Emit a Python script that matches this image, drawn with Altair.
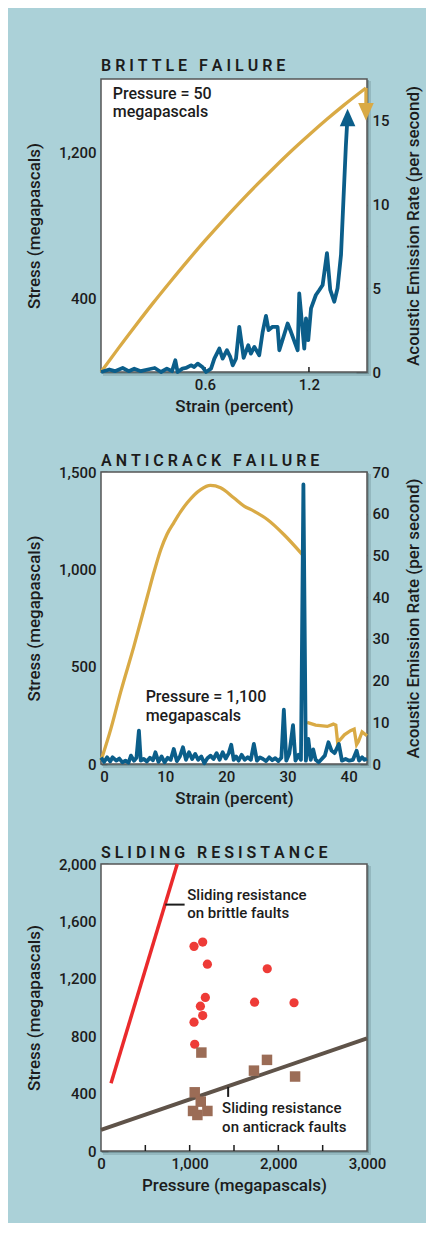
import altair as alt
import pandas as pd

# ---------------- BRITTLE FAILURE ----------------
brittle_strain = [0.0, 0.1, 0.2, 0.3, 0.4, 0.5, 0.6, 0.7, 0.8, 0.9, 1.0, 1.1, 1.2, 1.3, 1.4, 1.529]
brittle_stress = [0, 129, 254, 376, 493, 607, 717, 823, 925, 1023, 1117, 1208, 1294, 1377, 1456, 1551]
brittle_drop_strain = [1.529, 1.529]
brittle_drop_stress = [1551, 1421]
brittle_ae_strain = [0.0, 0.048, 0.08, 0.125, 0.16, 0.192, 0.23, 0.27, 0.31, 0.346, 0.38, 0.41,
                     0.429, 0.442, 0.47, 0.49, 0.519, 0.538, 0.558, 0.585, 0.606, 0.635, 0.654,
                     0.683, 0.702, 0.727, 0.746, 0.76, 0.779, 0.798, 0.823, 0.85, 0.865, 0.885,
                     0.913, 0.933, 0.952, 0.967, 0.99, 1.019, 1.029, 1.077, 1.096, 1.135, 1.144,
                     1.173, 1.183, 1.196, 1.212, 1.24, 1.26, 1.279, 1.304, 1.323, 1.346, 1.365,
                     1.385, 1.40, 1.413, 1.42]
brittle_ae = [0.0, 0.15, 0.05, 0.24, 0.05, 0.2, 0.05, 0.15, 0.24, 0.0, 0.2, 0.05,
              0.7, 0.0, 0.2, 0.24, 0.4, 0.3, 0.5, 0.3, 0.0, 0.2, 0.8,
              1.4, 0.8, 1.3, 0.9, 0.4, 0.8, 2.7, 0.85, 1.6, 1.1, 1.5,
              1.0, 2.4, 3.35, 2.5, 2.7, 2.7, 1.3, 2.9, 2.4, 1.3, 4.7,
              1.4, 3.2, 1.9, 3.8, 4.6, 4.9, 5.2, 7.1, 4.9, 4.2, 5.0,
              7.0, 10.5, 13.5, 14.8]
brittle_ae_head = [1.423, 15.2]
brittle_note = ["Pressure = 50", "megapascals"]
brittle_note_strain = [0.068, 0.068]
brittle_note_stress = [1519, 1421]
brittle_left_ticks = [400, 1200]
brittle_right_ticks = [0, 2.5, 5, 7.5, 10, 12.5, 15]
brittle_x_ticks = [0.6, 1.2]

# ---------------- ANTICRACK FAILURE ----------------
anti_strain_a = [-0.5, 1.1, 2.7, 4.9, 7.1, 8.2, 9.3, 10.3, 11.4, 12.5, 13.6, 15.8, 17.4, 19.05,
                 21.2, 22.9, 24.5, 26.7, 29.4, 32.4]
anti_stress_a = [17, 179, 368, 607, 863, 990, 1103, 1180, 1239, 1295, 1342, 1410, 1431, 1419,
                 1368, 1325, 1299, 1256, 1179, 1077]
anti_strain_b = [33.2, 34.6, 36.5, 37.5, 37.9, 38.2, 39.3, 40.3, 40.9, 41.3, 41.6, 42.2, 43.0]
anti_stress_b = [214, 200, 193, 205, 200, 110, 150, 171, 179, 100, 115, 165, 145]
anti_ae_strain = [-0.5, 0.0, 0.5, 1.0, 1.4, 2.0, 2.5, 3.0, 3.5, 4.0, 4.4, 4.9, 5.3, 5.7, 6.0,
                  6.5, 7.0, 7.5, 8.0, 8.4, 8.9, 9.4, 9.9, 10.4, 10.9, 11.4, 11.9, 12.4, 12.9,
                  13.4, 13.9, 14.4, 14.9, 15.4, 15.9, 16.4, 16.9, 17.4, 17.9, 18.4, 18.9, 19.4,
                  19.9, 20.4, 20.8, 21.2, 21.6, 22.0, 22.5, 23.0, 23.5, 24.0, 24.5, 25.0, 25.5,
                  26.0, 26.5, 27.0, 27.5, 28.0, 28.5, 29.0, 29.4, 29.8, 30.3, 30.9, 31.3, 31.8,
                  32.2, 32.6, 33.0, 33.4, 33.8, 34.2, 34.6, 35.1, 35.6, 36.1, 36.7, 37.2, 37.7,
                  38.4, 38.9, 39.5, 40.1, 40.7, 41.3, 41.7, 42.2, 42.6, 43.0]
anti_ae = [1.5, 0.5, 1.6, 0.6, 1.6, 0.8, 1.3, 0.4, 0.8, 0.3, 2.0, 0.8, 1.5, 8.0, 0.8,
           1.2, 0.6, 1.5, 0.9, 2.8, 0.5, 1.8, 0.4, 1.5, 1.0, 3.6, 0.7, 1.8, 4.0,
           1.0, 2.8, 1.2, 2.4, 1.0, 1.8, 0.2, 1.4, 2.0, 1.2, 2.6, 1.0, 2.8,
           1.3, 2.6, 4.6, 1.0, 1.8, 0.8, 2.2, 1.0, 1.6, 1.0, 4.8, 0.8, 1.6,
           1.2, 0.7, 1.6, 0.9, 1.4, 0.7, 1.5, 13.0, 0.8, 2.5, 9.3, 0.8, 2.2,
           1.0, 67.0, 0.8, 6.0, 1.0, 3.5, 1.0, 0.4, 1.2, 2.0, 5.2, 3.2, 2.6,
           4.8, 0.8, 1.2, 0.8, 1.0, 3.2, 0.8, 1.6, 1.0, 1.3]
anti_note = ["Pressure = 1,100", "megapascals"]
anti_note_strain = [6.8, 6.8]
anti_note_stress = [342, 246]
anti_left_ticks = [0, 500, 1000, 1500]
anti_right_ticks = [0, 10, 20, 30, 40, 50, 60, 70]
anti_x_labels = [0, 10, 20, 30, 40]

# ---------------- SLIDING RESISTANCE ----------------
brittle_fault_pressure = [113, 860]
brittle_fault_stress = [472, 2000]
anticrack_fault_pressure = [0, 3000]
anticrack_fault_stress = [147, 785]
dots_pressure = [1049, 1147, 1200, 1875, 1177, 1121, 1147, 1049, 1732, 2177, 1057]
dots_stress = [1426, 1456, 1302, 1270, 1070, 1009, 944, 898, 1037, 1033, 744]
squares_pressure = [1132, 1057, 1125, 1038, 1087, 1200, 1725, 1872, 2189]
squares_stress = [686, 409, 344, 279, 251, 279, 560, 635, 519]
slide_notes = ["Sliding resistance", "on brittle faults", "Sliding resistance", "on anticrack faults"]
slide_notes_pressure = [973, 973, 1366, 1366]
slide_notes_stress = [1786, 1656, 302, 170]
leader_pressure = [725, 1434]
leader_pressure2 = [943, 1434]
leader_stress = [1717, 447]
leader_stress2 = [1717, 377]
slide_y_ticks = [0, 400, 800, 1200, 1600, 2000]
slide_x_ticks = [500, 1000, 1500, 2000, 2500]

# ---------------- styling ----------------
FONT = "Roboto"
INK = "#1c1c1c"
GOLD = "#d9aa45"
BLUE = "#0b5e8a"
RED = "#ea2a2c"
DOT_RED = "#ee3b37"
SQ_BROWN = "#9b6c56"
LINE_BROWN = "#5f5349"
BG = "#abd1d8"
SHADOW = "#5f7d84"
UP = "M0,-1L-0.9,1L0.9,1Z"
DOWN = "M0,1L-0.9,-1L0.9,-1Z"
W = 266
ONE = pd.DataFrame({"k": [0]})


def spaced(s):
    return "\u00a0".join(s)


def ax(**kw):
    base = dict(domain=False, ticks=False, grid=False, labelFont=FONT, labelFontSize=15,
                labelFontWeight=500, labelColor=INK, titleFont=FONT, titleFontSize=17,
                titleFontWeight=500, titleColor=INK, labelOverlap=False, labelPadding=5)
    base.update(kw)
    return alt.Axis(**base)


def left_axis(title, values, tick_len):
    return ax(title=title, values=values, orient="left", grid=True,
              gridDash=[tick_len, 1000], gridColor=INK, gridWidth=1.5, gridOpacity=1,
              minExtent=42, maxExtent=42, titlePadding=16)


def right_axis(title, values, tick_len, label_expr=None):
    kw = dict(title=title, values=values, orient="right", grid=True,
              gridDash=[tick_len, 1000], gridColor=INK, gridWidth=1.5, gridOpacity=1,
              minExtent=22, maxExtent=22, titlePadding=33, titleAngle=270)
    if label_expr:
        kw["labelExpr"] = label_expr
    return ax(**kw)


def panel_title(t, off):
    return alt.TitleParams(spaced(t), anchor="start", frame="group", font=FONT, fontSize=16,
                           fontWeight=600, color=INK, offset=off)


def frame_layers(h):
    """drop shadow + white plot face with border, drawn beneath the data"""
    sh1 = alt.Chart(ONE).mark_rect(color=SHADOW, opacity=0.3).encode(
        x=alt.value(2), x2=alt.value(W + 4), y=alt.value(2), y2=alt.value(h + 4))
    sh2 = alt.Chart(ONE).mark_rect(color=SHADOW, opacity=0.55).encode(
        x=alt.value(1), x2=alt.value(W + 2), y=alt.value(1), y2=alt.value(h + 2))
    face = alt.Chart(ONE).mark_rect(color="white", stroke="#555555", strokeWidth=1.5).encode(
        x=alt.value(0), x2=alt.value(W), y=alt.value(0), y2=alt.value(h))
    return [sh1, sh2, face]


def note_text(df, x, y, size):
    return alt.Chart(df).mark_text(align="left", baseline="middle", font=FONT, fontSize=size,
                                   fontWeight=500, color=INK).encode(x=x, y=y, text="label:N")


# ---------------- panel 1 ----------------
H1 = 293
bx = alt.X("strain:Q", scale=alt.Scale(domain=[0, 1.535], nice=False),
           axis=ax(title="Strain (percent)", values=[0.6, 1.2], format=".1f", labelFlush=False,
                   titlePadding=6))
bl = alt.Y("stress:Q", scale=alt.Scale(domain=[0, 1600], nice=False),
           axis=left_axis("Stress (megapascals)", brittle_left_ticks, 10))
br = alt.Y("ae:Q", scale=alt.Scale(domain=[0, 17.5], nice=False),
           axis=right_axis("Acoustic Emission Rate (per second)", brittle_right_ticks, 11,
                           "datum.value % 5 === 0 ? datum.label : ''"))

df_bs = pd.DataFrame({"strain": brittle_strain, "stress": brittle_stress})
df_bd = pd.DataFrame({"strain": brittle_drop_strain, "stress": brittle_drop_stress})
df_bdh = pd.DataFrame({"strain": [brittle_drop_strain[-1]], "stress": [brittle_drop_stress[-1]]})
df_bn = pd.DataFrame({"strain": brittle_note_strain, "stress": brittle_note_stress, "label": brittle_note})
df_bxt = pd.DataFrame({"strain": brittle_x_ticks})
df_bae = pd.DataFrame({"strain": brittle_ae_strain, "ae": brittle_ae})
df_baeh = pd.DataFrame({"strain": [brittle_ae_head[0]], "ae": [brittle_ae_head[1]]})

p1_stress = alt.layer(
    *frame_layers(H1),
    alt.Chart(df_bxt).mark_rule(color=INK, strokeWidth=1.5).encode(
        x=bx, y=alt.value(H1 - 5), y2=alt.value(H1)),
    alt.Chart(df_bs).mark_line(color=GOLD, strokeWidth=3.3, interpolate="monotone").encode(x=bx, y=bl),
    alt.Chart(df_bd).mark_line(color=GOLD, strokeWidth=3.3).encode(x=bx, y=bl),
    alt.Chart(df_bdh).mark_point(shape=DOWN, filled=True, size=300, color=GOLD, opacity=1).encode(x=bx, y=bl),
    note_text(df_bn, bx, bl, 16),
)
p1_ae = alt.layer(
    alt.Chart(df_bae).mark_line(color=BLUE, strokeWidth=3.8, strokeJoin="round").encode(x=bx, y=br),
    alt.Chart(df_baeh).mark_point(shape=UP, filled=True, size=300, color=BLUE, opacity=1).encode(x=bx, y=br),
)
panel1 = alt.layer(p1_stress, p1_ae).resolve_scale(y="independent").properties(
    width=W, height=H1, title=panel_title("BRITTLE FAILURE", 4))

# ---------------- panel 2 ----------------
H2 = 292
mx = alt.X("strain:Q", scale=alt.Scale(domain=[-0.5, 43], nice=False),
           axis=ax(title="Strain (percent)", values=anti_x_labels, labelFlush=False, titlePadding=6))
ml = alt.Y("stress:Q", scale=alt.Scale(domain=[0, 1500], nice=False),
           axis=left_axis("Stress (megapascals)", anti_left_ticks, 6))
mr = alt.Y("ae:Q", scale=alt.Scale(domain=[0, 70], nice=False),
           axis=right_axis("Acoustic Emission Rate (per second)", anti_right_ticks, 7))

df_ma = pd.DataFrame({"strain": anti_strain_a, "stress": anti_stress_a})
df_mb = pd.DataFrame({"strain": anti_strain_b, "stress": anti_stress_b})
df_mn = pd.DataFrame({"strain": anti_note_strain, "stress": anti_note_stress, "label": anti_note})
df_mae = pd.DataFrame({"strain": anti_ae_strain, "ae": anti_ae})

p2_stress = alt.layer(
    *frame_layers(H2),
    alt.Chart(df_ma).mark_line(color=GOLD, strokeWidth=3.3, interpolate="monotone").encode(x=mx, y=ml),
    alt.Chart(df_mb).mark_line(color=GOLD, strokeWidth=3.3).encode(x=mx, y=ml),
    note_text(df_mn, mx, ml, 16),
)
p2_ae = alt.layer(
    alt.Chart(df_mae).mark_line(color=BLUE, strokeWidth=3.8, strokeJoin="round").encode(x=mx, y=mr),
)
panel2 = alt.layer(p2_stress, p2_ae).resolve_scale(y="independent").properties(
    width=W, height=H2, title=panel_title("ANTICRACK FAILURE", -4))

# ---------------- panel 3 ----------------
H3 = 287
sx = alt.X("pressure:Q", scale=alt.Scale(domain=[0, 3000], nice=False),
           axis=ax(title="Pressure (megapascals)", values=[0, 1000, 2000, 3000], labelFlush=False,
                   titlePadding=6))
sy = alt.Y("stress:Q", scale=alt.Scale(domain=[0, 2000], nice=False),
           axis=left_axis("Stress (megapascals)", slide_y_ticks, 7))

df_red = pd.DataFrame({"pressure": brittle_fault_pressure, "stress": brittle_fault_stress})
df_brown = pd.DataFrame({"pressure": anticrack_fault_pressure, "stress": anticrack_fault_stress})
df_dots = pd.DataFrame({"pressure": dots_pressure, "stress": dots_stress})
df_sq = pd.DataFrame({"pressure": squares_pressure, "stress": squares_stress})
df_sn = pd.DataFrame({"pressure": slide_notes_pressure, "stress": slide_notes_stress, "label": slide_notes})
df_ld = pd.DataFrame({"pressure": leader_pressure, "pressure2": leader_pressure2,
                      "stress": leader_stress, "stress2": leader_stress2})
df_sxt = pd.DataFrame({"pressure": slide_x_ticks})

panel3 = alt.layer(
    *frame_layers(H3),
    alt.Chart(df_sxt).mark_rule(color=INK, strokeWidth=1.5).encode(
        x=sx, y=alt.value(H3 - 6), y2=alt.value(H3)),
    alt.Chart(df_red).mark_line(color=RED, strokeWidth=3.5).encode(x=sx, y=sy),
    alt.Chart(df_brown).mark_line(color=LINE_BROWN, strokeWidth=4).encode(x=sx, y=sy),
    alt.Chart(df_dots).mark_point(shape="circle", filled=True, size=85, color=DOT_RED, opacity=1).encode(x=sx, y=sy),
    alt.Chart(df_sq).mark_point(shape="square", filled=True, size=110, color=SQ_BROWN, opacity=1).encode(x=sx, y=sy),
    alt.Chart(df_ld).mark_rule(color=INK, strokeWidth=2).encode(x=sx, x2="pressure2:Q", y=sy, y2="stress2:Q"),
    note_text(df_sn, sx, sy, 15),
).properties(width=W, height=H3, title=panel_title("SLIDING RESISTANCE", -4))

chart = alt.vconcat(panel1, panel2, panel3, spacing=39).properties(
    padding={"left": 17, "top": 50, "right": 5, "bottom": 30},
    background=BG,
).configure_view(fill="white", stroke=None)

chart.save("out.html", embed_options={"renderer": "svg", "actions": False})
